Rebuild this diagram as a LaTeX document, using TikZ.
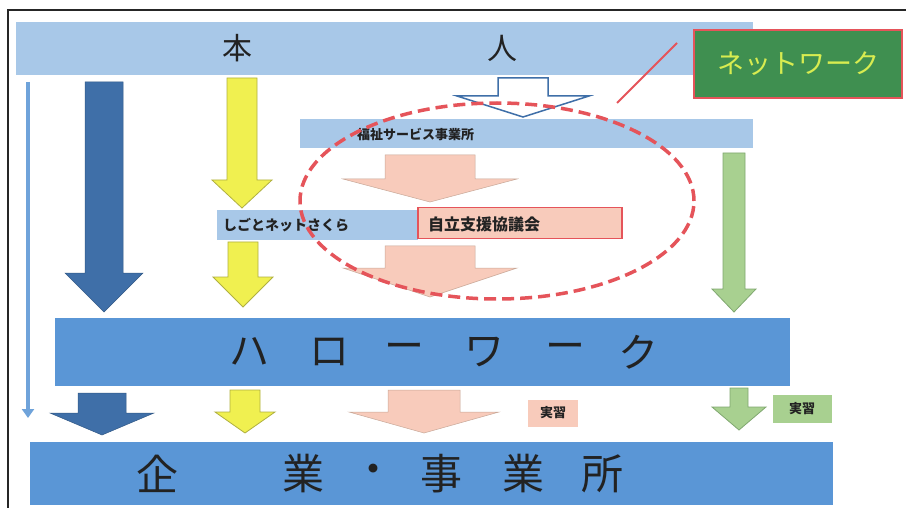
\documentclass[tikz,border=0pt]{standalone}
\usepackage{fontspec}
\usetikzlibrary{arrows.meta}
\newfontfamily\jp{Noto Sans CJK JP}
\definecolor{barlight}{HTML}{A8C8E8}
\definecolor{barmid}{HTML}{5A96D6}
\definecolor{thinarr}{HTML}{6FA3DA}
\definecolor{darkarr}{HTML}{3F6FA8}
\definecolor{yelfill}{HTML}{F0F050}
\definecolor{yelline}{HTML}{B0B040}
\definecolor{pinkfill}{HTML}{F8CBBB}
\definecolor{pinkline}{HTML}{C8A898}
\definecolor{grnfill}{HTML}{A8D090}
\definecolor{grnline}{HTML}{80A870}
\definecolor{redl}{HTML}{E5545A}
\definecolor{netgrn}{HTML}{3F8F50}
\definecolor{nettxt}{HTML}{D8EC50}
\definecolor{txt}{HTML}{222222}
\newcommand{\barr}[7]{\draw[#1] (#2-#3,#4) -- (#2+#3,#4) -- (#2+#3,#5) -- (#2+#6,#5) -- (#2,#7) -- (#2-#6,#5) -- (#2-#3,#5) -- cycle;}
\tikzset{
  lbar/.style={fill=barlight, draw=none},
  mbar/.style={fill=barmid, draw=none},
  darr/.style={fill=darkarr, draw=darkarr!80!black, line width=0.5pt},
  yarr/.style={fill=yelfill, draw=yelline, line width=0.8pt},
  parr/.style={fill=pinkfill, draw=pinkline, line width=0.5pt},
  garr/.style={fill=grnfill, draw=grnline, line width=0.8pt},
  warr/.style={fill=white, draw=darkarr, line width=1.5pt},
  txtnode/.style={text=txt, inner sep=0pt, font=\jp},
  smalllab/.style={txtnode, anchor=west},
}
\begin{document}
\begin{tikzpicture}[x=1pt,y=-1pt]
\useasboundingbox (0,0) rectangle (906,508);
\fill[white] (0,0) rectangle (906,508);
% frame
\draw[line width=2.5pt, black!85] (8,520) -- (8,10) -- (920,10);
% top bar
\fill[lbar] (16,22) rectangle (753,75);
\node[txtnode, font=\jp\fontsize{30}{30}\selectfont] (hon) at (237,48) {本};
\node[txtnode, font=\jp\fontsize{30}{30}\selectfont] (nin) at (502,48) {人};
% network box
\node[draw=redl, line width=2.5pt, fill=netgrn, minimum width=208pt, minimum height=68pt, inner sep=0pt, text=nettxt, font=\jp\fontsize{27}{27}\selectfont] (net) at (798,64) {ネットワーク};
% thin left arrow
\draw[thinarr, line width=4.5pt, -{Triangle[length=9pt,width=12pt]}] (28,82) -- (28,418);
% dark blue big arrow
\barr{darr}{104}{19}{82}{273}{39}{312}
% yellow arrows
\barr{yarr}{242}{15}{78}{180}{30}{208}
\barr{yarr}{243}{15}{242}{277}{30}{307}
% white arrow under person
\barr{warr}{523}{25}{78}{96}{66}{117}
% welfare bar
\fill[lbar] (300,119) rectangle (753,148);
\node[smalllab, font=\jp\bfseries\fontsize{13}{13}\selectfont] (fukushi) at (357,134) {福祉サービス事業所};
% pink arrows
\barr{parr}{430}{45}{155}{179}{87}{202}
\barr{parr}{430}{45}{246}{268}{87}{297}
% shigoto net bar
\fill[lbar] (217,210) rectangle (418,240);
\node[smalllab, font=\jp\bfseries\fontsize{14}{14}\selectfont] (shigoto) at (223,225) {しごとネットさくら};
% jiritsu box
\node[draw=redl, line width=1.8pt, fill=pinkfill, minimum width=204pt, minimum height=31pt, inner sep=0pt] (jiritsu) at (520,223) {};
\node[smalllab, font=\jp\bfseries\fontsize{16}{16}\selectfont] (jiritsutxt) at (428,224) {自立支援協議会};
% green arrow right
\barr{garr}{734}{11}{153}{289}{22}{312}
% dashed ellipse
\draw[redl, line width=3.5pt, dash pattern=on 12pt off 6pt] (497,201) ellipse [x radius=197pt, y radius=98pt];
% connector from network box to ellipse
\coordinate (elp) at (617,103);
\coordinate (netp) at (677,43);
\draw[redl, line width=2pt] (netp) -- (elp);
% hello work bar
\fill[mbar] (55,318) rectangle (790,386);
\foreach \ch/\x in {ハ/249, ロ/329, ー/404, ワ/484, ー/565, ク/638}
  \node[txtnode, font=\jp\fontsize{40}{40}\selectfont] at (\x,352) {\ch};
% bottom arrows
\barr{darr}{102}{24}{393}{413}{52}{435}
\barr{yarr}{245}{15}{390}{412}{30}{433}
\barr{parr}{424}{36}{390}{412}{75}{433}
\barr{garr}{739}{9}{388}{407}{27}{430}
% labels
\node[fill=pinkfill, minimum width=50pt, minimum height=27pt, inner sep=0pt, text=txt, font=\jp\bfseries\fontsize{13}{13}\selectfont] (jis1) at (553,413) {実習};
\node[fill=grnfill, minimum width=59pt, minimum height=28pt, inner sep=0pt, text=txt, font=\jp\bfseries\fontsize{13}{13}\selectfont] (jis2) at (802,409) {実習};
% company bar
\fill[mbar] (30,442) rectangle (833,505);
\foreach \ch/\x in {企/157, 業/303, ・/373, 事/441, 業/523, 所/602}
  \node[txtnode, font=\jp\fontsize{42}{42}\selectfont] at (\x,474) {\ch};
\end{tikzpicture}
\end{document}
